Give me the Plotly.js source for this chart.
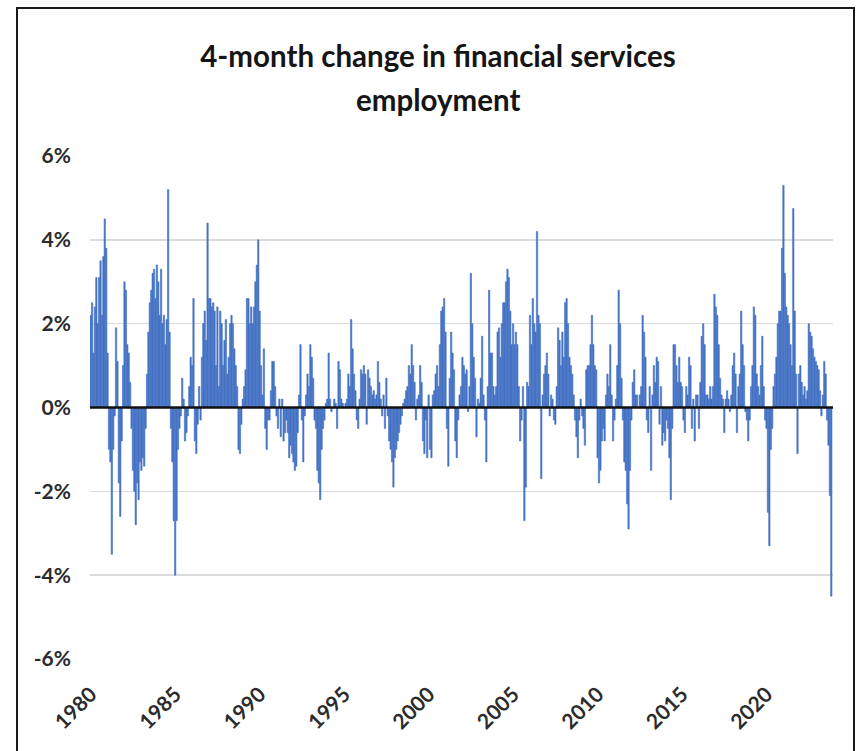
<!DOCTYPE html>
<html>
<head>
<meta charset="utf-8">
<script src="https://cdn.plot.ly/plotly-3.0.1.min.js"></script>
<style>
  html, body { margin: 0; padding: 0; background: #ffffff; }
  #chart { position: absolute; left: 0; top: 0; width: 860px; height: 751px; }
  #frame { position: absolute; left: 16px; top: 7px; width: 839px; height: 760px;
           border: 2px solid #1a1a1a; pointer-events: none; box-sizing: border-box; }
</style>
</head>
<body>
<div id="chart"></div>
<div id="frame"></div>
<script>
// 4-month % change in financial services employment, monthly
const v1980s = [
  2.2, 2.5, 1.3, 2.4, 3.1, 2.0, 3.1, 3.5, 2.2, 3.6, 4.5, 3.8,
  1.3, -1.0, -1.3, -3.5, -1.0, -0.2, 1.9, 1.1, -1.8, -2.6, -0.8, 1.0,
  3.0, 2.8, 1.5, 1.3, 0.6, -0.5, -1.5, -2.0, -2.8, -1.8, -2.2, -1.3, -1.5,
  -1.2, -1.4, -0.5, 0.8, 1.8, 2.5, 2.8, 3.2, 3.3, 2.6, 3.4, 3.0,
  2.2, 3.3, 2.0, 2.2, 1.5, 2.1, 5.2, 1.8, -0.5, -1.3, -2.7, -4.0,
  -2.7, -1.0, -0.5, -0.2, 0.7, 0.2, -0.8, -0.6, -0.2, 0.5, 1.2, 1.0,
  2.6, -0.8, -1.1, -0.4, 0.5, -0.3, 1.2, 2.0, 2.3, 1.6, 4.4, 2.6,
  2.6, 2.4, 2.5, 2.3, 1.0, 2.4, 0.5, 2.3, 2.0, 1.0, 1.6, 2.1, 0.8,
  1.2, 2.0, 2.2, 2.0, 1.4, 1.0, 0.5, -1.0, -1.1, -0.4, 0.2, 0.5,
  0.9, 2.6, 2.6, 2.0, 2.4, 2.0, 2.4, 3.0, 3.4, 4.0, 2.3, 1.0
];
const v1990s = [
  0.3, 1.4, -0.5, -1.0, -0.3, -0.3, 0.4, 1.1, 1.1, 0.5, -0.2, -0.5,
  0.2, -0.7, 0.2, -0.8, -0.6, -0.3, -0.6, -1.2, -0.9, -1.1, -1.3, -1.5, -1.4,
  -0.6, 0.3, 1.5, -0.3, -1.3, -0.2, 0.3, 0.8, 0.5, 1.5, 1.2, 0.7,
  -0.3, -0.5, -1.5, -1.8, -2.2, -1.0, -0.5, -0.3, 0.1, 0.2, 1.3, 0.2,
  -0.1, 0.0, 0.2, 0.1, -0.5, 1.1, 0.9, 0.2, 0.1, 0.0, 0.1, 0.2,
  0.8, 0.5, 2.1, 1.4, 0.8, 0.4, -0.3, -0.5, 0.2, 0.9, 0.8, 1.0,
  0.8, -0.4, 0.9, 0.7, 0.5, 0.3, 0.4, 0.2, 0.3, 1.1, 0.6, 0.2, -0.2,
  0.3, -0.5, 0.7, -0.2, -0.8, -1.0, -1.3, -1.9, -1.2, -1.0, -0.8, -0.6,
  -0.4, -0.2, 0.1, 0.2, 0.4, 0.5, 1.0, 0.8, 1.5, 1.0, 0.6, -0.3,
  0.2, 0.3, 1.0, 0.6, -0.8, -1.1, -0.3, -1.2, 0.3, -1.0, -1.2, 0.3
];
const v2000s = [
  0.4, 0.8, 1.0, 0.5, 1.5, 2.3, 2.4, 2.6, 1.8, -0.5, -1.4, 0.7,
  1.8, 1.3, 0.9, -0.8, -1.2, -0.3, 0.3, 0.5, 1.2, 1.0, 0.8, 0.9, -0.1,
  0.5, 3.2, 2.0, 1.2, 0.7, -0.7, 0.2, 0.1, 0.7, 1.7, 0.3, -0.3,
  -1.3, 0.5, 2.8, 1.3, 1.3, 0.5, 0.3, 0.5, 1.8, 1.9, 1.2, 2.0,
  2.5, 2.5, 3.0, 3.3, 3.1, 2.3, 1.5, 2.0, 1.5, 1.8, 1.5, 0.5,
  -0.8, -0.3, 0.5, -2.7, -1.9, 0.6, 0.5, 2.2, 1.5, 2.6, 2.0, 1.8, 4.2,
  2.2, 2.0, -1.7, 0.3, 0.8, 1.0, 1.3, 0.8, -0.2, 0.3, 0.2, -0.3,
  -0.4, 0.5, 1.9, 1.6, 1.0, 1.8, 1.2, 2.5, 2.6, 2.0, 1.2, 1.0,
  0.8, 0.3, -0.3, -0.7, -1.2, -0.3, 0.2, -0.2, -0.5, -0.9, 0.9, 1.0,
  1.0, 1.5, 2.2, 1.5, 1.0, 0.9, -1.2, -1.8, -1.5, -0.8, -0.5, -0.8
];
const v2010s = [
  0.3, 0.8, 0.5, 1.5, 0.3, -0.8, -0.3, 0.2, 1.0, 2.8, 2.0, 0.7, -0.3,
  -1.3, -1.5, -2.3, -2.9, -1.5, -0.3, 0.6, 0.9, 0.3, 0.3, 0.0, 0.3,
  0.5, 2.2, 1.8, 1.2, -0.3, -0.6, 0.5, -1.5, 0.3, 1.0, 0.6, 1.2,
  1.1, -0.4, 0.5, -0.9, -0.6, -0.8, -0.3, -0.5, -1.2, -2.2, -0.5, 1.5,
  1.5, 1.0, 0.6, 1.2, 0.6, 0.5, -0.3, -0.6, 0.5, 0.3, 1.2, 1.0,
  -0.5, 0.2, -0.8, 0.3, 0.3, -0.5, 0.6, 1.7, 2.0, 1.5, 0.3, 0.3, 0.2,
  0.5, 0.2, 0.5, 2.7, 2.4, 2.2, 1.5, 0.7, 0.3, 0.2, -0.6, 0.2,
  0.4, 0.2, -0.1, 0.3, 1.0, 1.3, 0.8, -0.6, 0.5, 0.8, 2.3, 1.5,
  1.0, -0.1, -0.3, -0.8, -0.3, 0.5, 1.0, 2.4, 2.2, 0.8, 0.5, 0.3,
  1.0, 1.7, 0.5, -0.3, -0.5, -2.5, -3.3, -1.0, -0.5, 0.5, 0.8, 1.2, 2.0
];
const v2020s = [
  2.3, 2.3, 3.8, 5.3, 3.2, 2.4, 2.2, 2.0, 1.5, 1.0, 4.75, 2.3,
  0.8, -1.1, 0.8, 1.0, 0.6, 0.3, 0.5, 0.2, 0.4, 2.0, 1.8, 1.7,
  1.4, 1.2, 1.1, 1.0, 0.9, 0.4, -0.2, 0.3, 1.1, 0.8, -0.3, -0.9, -2.1,
  -4.5
];

const yearLabels = ['1980', '1985', '1990', '1995', '2000', '2005', '2010', '2015', '2020'];
const monthsPerLabel = 60;
const yTickValues = [-6, -4, -2, 0, 2, 4, 6];
const yTickLabels = ['-6%', '-4%', '-2%', '0%', '2%', '4%', '6%'];
const titleLine1 = '4-month change in financial services';
const titleLine2 = 'employment';

const values = [].concat(v1980s, v1990s, v2000s, v2010s, v2020s);
const months = values.map((_, i) => i);
const xTickVals = yearLabels.map((_, k) => k * monthsPerLabel);

const FONT = 'Lato, "Open Sans", Arial, sans-serif';
const BAR = '#4472C4';

const trace = {
  type: 'bar',
  x: months,
  y: values,
  marker: { color: BAR, line: { color: BAR, width: 0.6 } },
  hoverinfo: 'y'
};

const layout = {
  width: 860,
  height: 751,
  margin: { l: 90, r: 27, t: 156, b: 92 },
  paper_bgcolor: 'rgba(0,0,0,0)',
  plot_bgcolor: 'rgba(0,0,0,0)',
  showlegend: false,
  bargap: 0.05,
  font: { family: FONT, color: '#2b2b2b' },
  title: {
    text: titleLine1,
    font: { family: FONT, size: 29.5, weight: 700, color: '#151515' },
    xref: 'container', x: 438 / 860, xanchor: 'center',
    yref: 'container', y: 1 - 57 / 751, yanchor: 'middle'
  },
  annotations: [{
    text: titleLine2,
    xref: 'paper', x: (438 - 90) / 743, xanchor: 'center',
    yref: 'paper', y: (659 - 99) / 503, yanchor: 'middle',
    showarrow: false,
    font: { family: FONT, size: 29.5, weight: 700, color: '#151515' }
  }],
  xaxis: {
    range: [-0.5, 527.2],
    tickmode: 'array',
    tickvals: xTickVals,
    ticktext: yearLabels,
    tickangle: -45,
    showgrid: false,
    zeroline: false,
    showline: false,
    ticks: '',
    ticklabelstandoff: 18,
    tickfont: { family: FONT, size: 21, weight: 700, color: '#2b2b2b' }
  },
  yaxis: {
    range: [-6, 6],
    tickmode: 'array',
    tickvals: yTickValues,
    ticktext: yTickLabels,
    showgrid: true,
    gridcolor: '#dcdcdc',
    gridwidth: 1.5,
    zeroline: false,
    showline: false,
    ticks: '',
    ticklabelstandoff: 18,
    tickfont: { family: FONT, size: 21, weight: 700, color: '#2b2b2b' }
  },
  shapes: [{
    type: 'line', xref: 'paper', x0: 0, x1: 1, yref: 'y', y0: 0, y1: 0,
    line: { color: '#111111', width: 2.5 }, layer: 'above'
  }]
};

Plotly.newPlot('chart', [trace], layout, { displayModeBar: false, staticPlot: true });
</script>
</body>
</html>
